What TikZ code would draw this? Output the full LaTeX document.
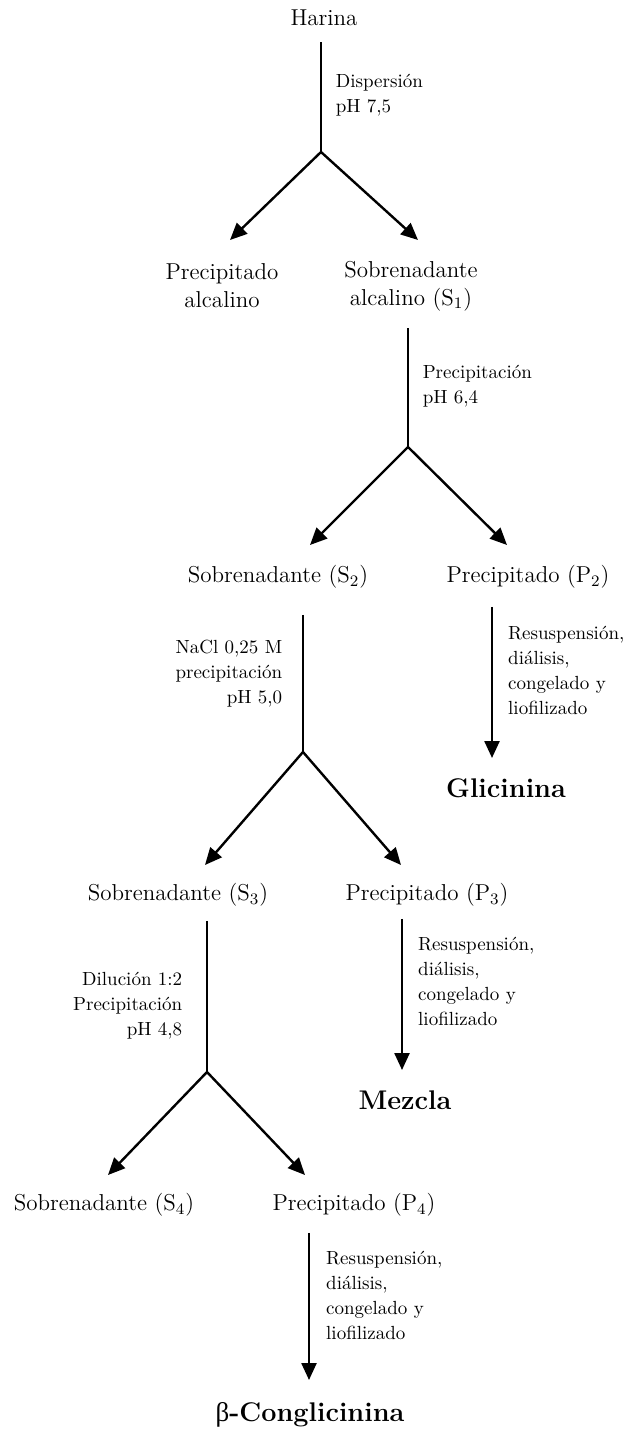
\documentclass[tikz,border=0pt]{standalone}
\usepackage{amsmath}
\usepackage{fontspec}
\newfontfamily\griega{Liberation Serif}
\usepackage{tikz}
\usetikzlibrary{arrows.meta}

\begin{document}
\begin{tikzpicture}[x=0.5pt,y=-0.5pt]
\tikzstyle{paso}=[inner sep=0pt,align=center,font=\fontsize{11.5}{14}\selectfont]
\tikzstyle{nota}=[inner sep=0pt,font=\fontsize{9.5}{12.5}\selectfont]
\tikzstyle{final}=[inner sep=0pt,font=\fontsize{13.5}{16}\selectfont\bfseries]
\tikzstyle{tallo}=[line width=0.8pt]
\tikzstyle{rama}=[line width=1.2pt,-{Triangle[length=8.5pt,width=7.5pt]}]
\useasboundingbox (0,0) rectangle (626,1433);
\node [paso] (harina) at (324,18) {Harina};
\coordinate (f1) at (321,152);
\coordinate (t1a) at (230,240);
\coordinate (t1b) at (418,240);
\node [paso] (palc) at (222,286) {Precipitado\\alcalino};
\node [paso] (s1) at (411,286) {Sobrenadante\\alcalino (S$_1$)};
\draw[tallo,shorten <=8pt] (harina.south -| f1) -- node[nota,pos=0.55,right=7pt,align=left] (disp) {Dispersión\\pH 7,5} (f1);
\draw[rama] (f1) -- (t1a);
\draw[rama] (f1) -- (t1b);

\coordinate (f2) at (408,447);
\coordinate (t2a) at (310,545);
\coordinate (t2b) at (507,545);
\node [paso] (s2) at (278,577) {Sobrenadante (S$_2$)};
\node [paso] (p2) at (528,577) {Precipitado (P$_2$)};
\draw[tallo,shorten <=8.5pt] (s1.south -| f2) -- node[nota,pos=0.55,right=7pt,align=left] (prec1) {Precipitación\\pH 6,4} (f2);
\draw[rama] (f2) -- (t2a);
\draw[rama] (f2) -- (t2b);

\coordinate (f3) at (303,752);
\coordinate (t3a) at (205,865);
\coordinate (t3b) at (401,865);
\coordinate (a2) at (492,758);
\node [final] (glic) at (506,788) {Glicinina};
\node [paso] (s3) at (178,895) {Sobrenadante (S$_3$)};
\node [paso] (p3) at (427,895) {Precipitado (P$_3$)};
\draw[tallo,shorten <=13pt] (s2.south -| f3) -- node[nota,pos=0.52,left=10pt,align=right] (nacl) {NaCl 0,25 M\\precipitación\\pH 5,0} (f3);
\draw[rama,shorten <=9pt] (p2.south -| a2) -- node[nota,pos=0.48,right=7.5pt,align=left] (res2) {Resuspensión,\\diálisis,\\congelado y\\liofilizado} (a2);
\draw[rama] (f3) -- (t3a);
\draw[rama] (f3) -- (t3b);

\coordinate (f4) at (207,1072);
\coordinate (t4a) at (108,1175);
\coordinate (t4b) at (305,1175);
\coordinate (a3) at (402,1070);
\node [final] (mezcla) at (405,1100) {Mezcla};
\node [paso] (s4) at (104,1205) {Sobrenadante (S$_4$)};
\node [paso] (p4) at (354,1205) {Precipitado (P$_4$)};
\draw[tallo,shorten <=7pt] (s3.south -| f4) -- node[nota,pos=0.6,left=12pt,align=right] (dil) {Dilución 1:2\\Precipitación\\pH 4,8} (f4);
\draw[rama,shorten <=6pt] (p3.south -| a3) -- node[nota,pos=0.46,right=7.5pt,align=left] (res3) {Resuspensión,\\diálisis,\\congelado y\\liofilizado} (a3);
\draw[rama] (f4) -- (t4a);
\draw[rama] (f4) -- (t4b);

\coordinate (a4) at (309,1380);
\node [final] (beta) at (310,1415) {{\griega\mdseries β}-Conglicinina};
\draw[rama,shorten <=8pt] (p4.south -| a4) -- node[nota,pos=0.48,right=8pt,align=left] (res4) {Resuspensión,\\diálisis,\\congelado y\\liofilizado} (a4);
\end{tikzpicture}
\end{document}
